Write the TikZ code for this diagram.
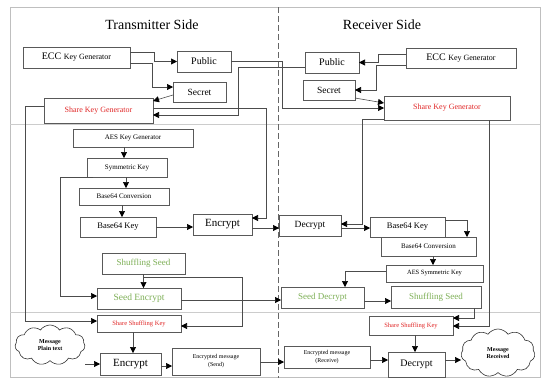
\documentclass[tikz,border=0pt]{standalone}
\usepackage{fontspec}
\setmainfont{Liberation Serif}
\usetikzlibrary{arrows.meta,shapes.symbols}
\definecolor{keyred}{RGB}{225,40,40}
\definecolor{seedgreen}{RGB}{125,175,85}
\newcommand{\fs}[1]{\fontsize{#1}{#1}\selectfont}

\begin{document}
\begin{tikzpicture}[x=1pt, y=-1pt,
    box/.style={draw=black!65, fill=white, line width=0.6pt, inner sep=0pt, outer sep=0pt},
    arr/.style={draw=black!70, line width=0.6pt, -{Triangle[length=6pt,width=6pt,color=black]}},
    msg/.style={cloud, cloud puffs=11, cloud puff arc=110, draw=black!80, fill=white, line width=0.6pt, inner sep=0pt, align=center, font=\fontsize{6}{7.5}\selectfont\bfseries}]
    \useasboundingbox (0,0) rectangle (544,378);

    \draw[black!25, line width=0.6pt] (10,7) rectangle (540,377.5);
    \draw[black!20] (10,124) -- (540,124);
    \draw[black!20] (10,312) -- (540,312);
    \draw[black!60, line width=0.8pt, dash pattern=on 6pt off 3pt] (278,7) -- (278,378);

    \node (ttitle) at (152,25) {\fs{14}Transmitter Side};
    \node (rtitle) at (382,25) {\fs{14}Receiver Side};

    \node[box, minimum width=107, minimum height=21] (tecc) at (76.5,57.5) {\fs{10}ECC \fs{8}Key Generator};
    \node[box, minimum width=54, minimum height=21] (tpub) at (204,61.5) {\fs{10}Public};
    \node[box, minimum width=53, minimum height=20] (tsec) at (199.5,92) {\fs{9.5}Secret};
    \node[box, minimum width=109, minimum height=25, text=keyred] (tskg) at (98.5,110.5) {\fs{8}Share Key Generator};
    \node[box, minimum width=120, minimum height=18] (taes) at (133,138) {\fs{7}AES Key Generator};
    \node[box, minimum width=80, minimum height=19] (tsym) at (127,167.5) {\fs{7}Symmetric Key};
    \node[box, minimum width=90, minimum height=17] (tb64c) at (124,196.5) {\fs{7}Base64 Conversion};
    \node[box, minimum width=76, minimum height=20] (tb64k) at (118,227) {\fs{8.5}Base64 Key};
    \node[box, minimum width=59, minimum height=21] (tenc) at (222.5,224.5) {\fs{11}Encrypt};
    \node[box, minimum width=83, minimum height=21, text=seedgreen] (tss) at (143.5,263.5) {\fs{9}Shuffling Seed};
    \node[box, minimum width=84, minimum height=21, text=seedgreen] (tsenc) at (139,298.5) {\fs{9.5}Seed Encrypt};
    \node[box, minimum width=84, minimum height=17, text=keyred] (tssk) at (139,323.5) {\fs{6.5}Share Shuffling Key};
    \node[box, minimum width=61, minimum height=22] (tenc2) at (130.5,364) {\fs{11}Encrypt};
    \node[box, minimum width=88, minimum height=27, align=center, font=\fontsize{6}{8}\selectfont] (tencmsg) at (216,361.5) {Encrypted message\\(Send)};
    \node[msg, minimum width=70, minimum height=40] (tmsg) at (50,345) {Message\\Plain text};

    \node[box, minimum width=110, minimum height=20] (recc) at (461,58) {\fs{10}ECC \fs{8}Key Generator};
    \node[box, minimum width=54, minimum height=21] (rpub) at (332,62.5) {\fs{10}Public};
    \node[box, minimum width=52, minimum height=20] (rsec) at (329,90) {\fs{9.5}Secret};
    \node[box, minimum width=126, minimum height=24, text=keyred] (rskg) at (447,108) {\fs{8}Share Key Generator};
    \node[box, minimum width=62, minimum height=21] (rdec) at (310,225.5) {\fs{9.5}Decrypt};
    \node[box, minimum width=75, minimum height=20] (rb64k) at (407.5,227) {\fs{8.5}Base64 Key};
    \node[box, minimum width=95, minimum height=19] (rb64c) at (428.5,246.5) {\fs{7}Base64 Conversion};
    \node[box, minimum width=97, minimum height=17] (raes) at (434.5,273.5) {\fs{6.5}AES Symmetric Key};
    \node[box, minimum width=83, minimum height=21, text=seedgreen] (rsdec) at (322.5,297.5) {\fs{9}Seed Decrypt};
    \node[box, minimum width=90, minimum height=22, text=seedgreen] (rss) at (436,297) {\fs{9}Shuffling Seed};
    \node[box, minimum width=84, minimum height=19, text=keyred] (rssk) at (411,325.5) {\fs{6.5}Share Shuffling Key};
    \node[box, minimum width=86, minimum height=22, align=center, font=\fontsize{6}{8}\selectfont] (rencmsg) at (327,357) {Encrypted message\\(Receive)};
    \node[box, minimum width=57, minimum height=25] (rdec2) at (416.5,364.5) {\fs{10}Decrypt};
    \node[msg, minimum width=74, minimum height=48] (rmsg) at (498,353) {Message\\Received};

    \draw[arr] ([yshift=5.5]tecc.east) -| ([xshift=-23]tpub.west) -- (tpub.west);
    \draw[arr] ([yshift=-5.5]tecc.east) -| ([xshift=-21,yshift=5]tsec.west) -- ([yshift=5]tsec.west);
    \draw[arr] ([yshift=-3]tsec.west) -- ([yshift=-3]tskg.north east);
    \draw[arr] ([yshift=-4.5]rpub.west) -| ([xshift=85,yshift=-4.5]tskg.east) -- ([yshift=-4.5]tskg.east);
    \draw[arr] (tpub.east) -| ([xshift=-102]rskg.west) -- (rskg.west);
    \draw[arr] ([yshift=2.5]tskg.east) -| ([xshift=14,yshift=6.5]tenc.east) -- ([yshift=6.5]tenc.east);
    \draw[arr] ([yshift=4.5]tskg.west) -| ([xshift=-72,yshift=2.5]tssk.west) -- ([yshift=2.5]tssk.west);
    \draw[arr] ([xshift=-9]taes.south) -- ([xshift=-3]tsym.north);
    \draw[arr] ([xshift=-1]tsym.south) -- ([xshift=2]tb64c.north);
    \draw[arr] ([xshift=-2]tb64c.south) -- ([xshift=4]tb64k.north);
    \draw[arr] (tb64k.east) -- (tb64k.east -| tenc.west);
    \draw[arr] ([xshift=6]tsym.south west) -| ([xshift=-37,yshift=2.5]tsenc.west) -- ([yshift=2.5]tsenc.west);
    \draw[arr] (tss.south) -- (tss.south |- tsenc.north);
    \draw[arr] ([yshift=-3]tss.south) -| ([xshift=61,yshift=-2.5]tssk.east) -- ([yshift=-2.5]tssk.east);
    \draw[arr] ([yshift=-1.5]tsenc.east) -- ([yshift=-2.5]rsdec.west);
    \draw[arr] ([xshift=-6]tssk.south) -- ([xshift=2.5]tenc2.north);
    \draw[arr] (tmsg.east |- tenc2.west) -- (tenc2.west);
    \draw[arr] ([yshift=-2]tenc2.east) -- ([yshift=-4.5]tencmsg.west);
    \draw[arr] ([yshift=-0.5]tencmsg.east) -- ([yshift=-5]rencmsg.west);
    \draw[arr] ([yshift=-3.5]tenc.east) -- ([yshift=-2.5]rdec.west);

    \draw[arr] ([yshift=4]recc.west) -| ([xshift=19]rpub.east) -- (rpub.east);
    \draw[arr] ([yshift=-7]recc.west) -| ([xshift=21]rsec.east) -- (rsec.east);
    \draw[arr] ([yshift=-8]rsec.east) -- ([yshift=5]rskg.west);
    \draw[arr] ([yshift=-11]rskg.west) -| ([xshift=21,yshift=1.5]rdec.east) -- ([yshift=1.5]rdec.east);
    \draw[arr] ([yshift=-2.5]rdec.east) -- ([yshift=-1]rb64k.west);
    \draw[arr] ([yshift=7]rb64k.east) -| ([xshift=38.5]rb64c.north);
    \draw[arr] ([xshift=4.5]rb64c.south) -- ([xshift=-1.5]raes.north);
    \draw[arr] ([yshift=2.5]raes.west) -| ([xshift=22.5]rsdec.north);
    \draw[arr] ([yshift=-3.5]rsdec.east) -- ([yshift=-4]rss.west);
    \draw[arr] ([xshift=38]rss.south) |- ([yshift=7.5]rssk.east);
    \draw[arr] ([xshift=42]rskg.south) |- ([yshift=-0.5]rssk.east);
    \draw[arr] ([xshift=4]rssk.south) -- ([xshift=-1.5]rdec2.north);
    \draw[arr] ([yshift=-3]rencmsg.east) -- ([yshift=4.5]rdec2.west);
    \draw[arr] ([yshift=4.5]rdec2.east) -- ([yshift=4.5]rdec2.east -| rmsg.west);
\end{tikzpicture}
\end{document}
